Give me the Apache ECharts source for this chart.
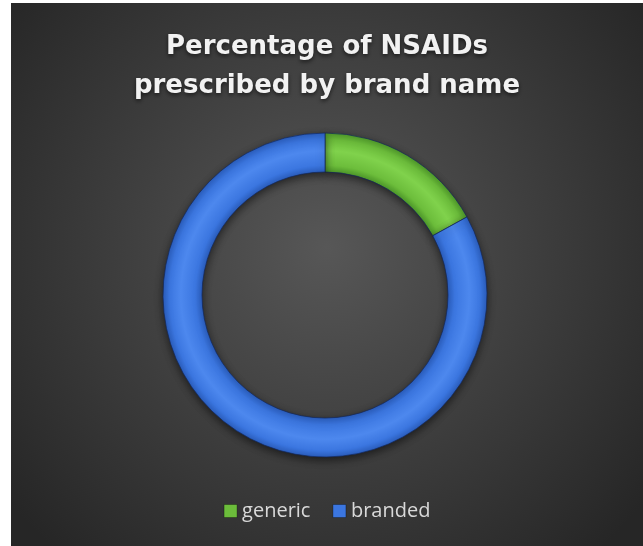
<!DOCTYPE html>
<html>
<head>
<meta charset="utf-8">
<script src="https://cdn.jsdelivr.net/npm/echarts@6/dist/echarts.min.js"></script>
<style>
html,body{margin:0;padding:0;background:#ffffff;width:643px;height:546px;overflow:hidden;}
#chart{position:absolute;left:11px;top:3px;width:632px;height:543px;}
</style>
</head>
<body>
<div id="chart"></div>
<script>
var categories = ['generic', 'branded'];
var values = [17, 83];
var colors = ['#6cbd3b', '#3b76e0'];
var titleText = 'Percentage of NSAIDs\nprescribed by brand name';

var chart = echarts.init(document.getElementById('chart'), null, {renderer: 'canvas'});
var cx = 314, cy = 292, rIn = 123, rOut = 162;

function tube(base, dark, light) {
  return {
    type: 'radial', x: cx, y: cy, r: rOut, global: true,
    colorStops: [
      {offset: 0, color: dark},
      {offset: rIn / rOut, color: dark},
      {offset: 0.80, color: base},
      {offset: 0.89, color: light},
      {offset: 0.96, color: base},
      {offset: 1, color: dark}
    ]
  };
}
var fills = [
  tube(colors[0], '#4f9a2a', '#80d24c'),
  tube(colors[1], '#2b5fc0', '#4d88ee')
];

var data = categories.map(function (c, i) {
  return {name: c, value: values[i], itemStyle: {color: fills[i]}};
});

chart.setOption({
  backgroundColor: {
    type: 'radial', x: 0.5, y: 0.45, r: 0.75,
    colorStops: [
      {offset: 0, color: '#575757'},
      {offset: 0.55, color: '#3c3c3c'},
      {offset: 1, color: '#262626'}
    ]
  },
  title: {
    text: titleText,
    left: 'center',
    top: 20,
    textStyle: {
      color: '#f2f2f2',
      fontFamily: 'DejaVu Sans',
      fontWeight: 'bold',
      fontSize: 26,
      lineHeight: 39,
      textShadowColor: 'rgba(0,0,0,0.6)',
      textShadowBlur: 4,
      textShadowOffsetY: 2
    }
  },
  legend: {
    data: categories.map(function (c, i) { return {name: c, itemStyle: {color: colors[i]}}; }),
    bottom: 20,
    left: 'center',
    icon: 'rect',
    itemWidth: 13,
    itemHeight: 13,
    itemGap: 22,
    itemStyle: {borderColor: 'rgba(0,0,0,0.3)', borderWidth: 1},
    textStyle: {color: '#d9d9d9', fontSize: 20, fontFamily: 'Open Sans'}
  },
  series: [{
    type: 'pie',
    center: [cx, cy],
    radius: [rIn, rOut],
    startAngle: 90,
    clockwise: true,
    label: {show: false},
    labelLine: {show: false},
    emphasis: {disabled: true},
    animation: false,
    itemStyle: {
      borderColor: 'rgba(20,40,90,0.7)',
      borderWidth: 1,
      shadowColor: 'rgba(0,0,0,0.55)',
      shadowBlur: 8,
      shadowOffsetY: 3
    },
    data: data
  }]
});
</script>
</body>
</html>
